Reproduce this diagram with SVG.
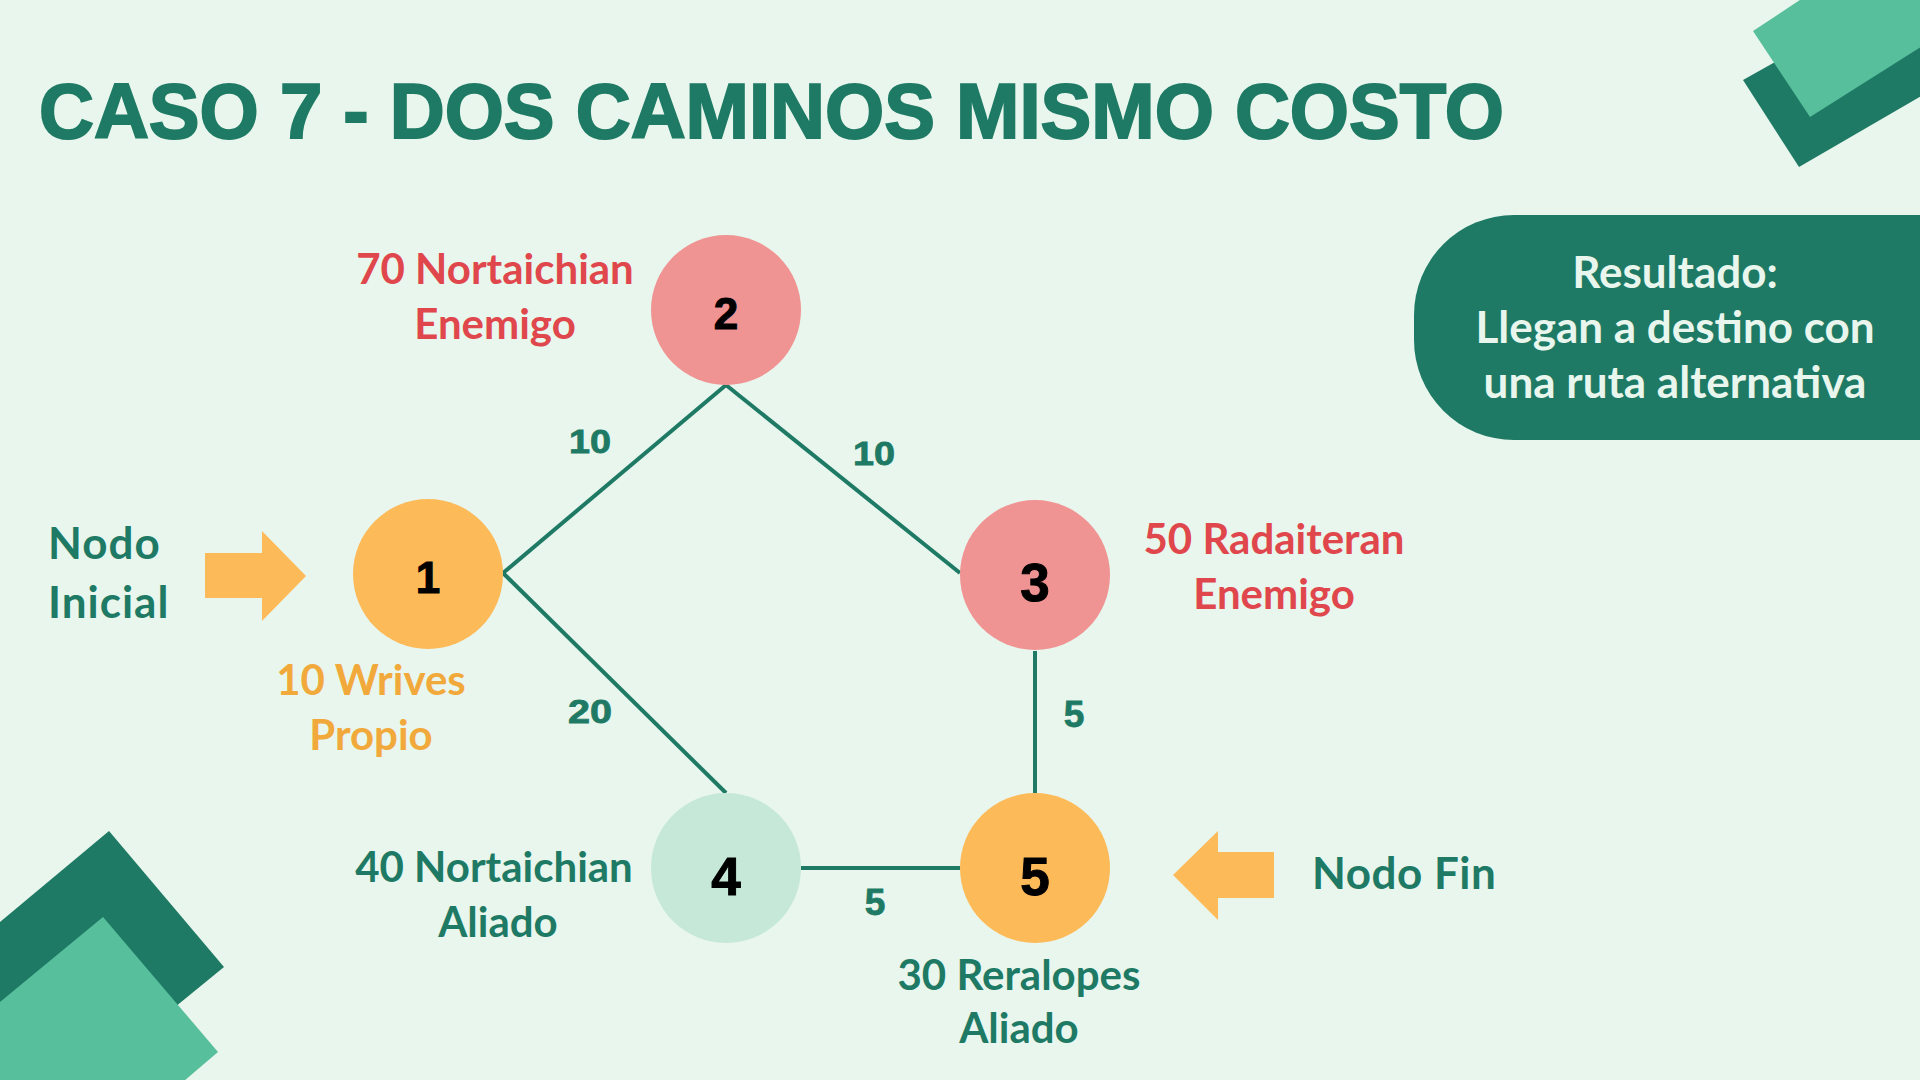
<svg xmlns="http://www.w3.org/2000/svg" width="1920" height="1080" viewBox="0 0 1920 1080">
<style>
.lbl{font-family:Lato,"Liberation Sans",sans-serif;font-weight:700;font-size:42px;text-anchor:middle}
.red{fill:#E0474C}
.grn{fill:#1E7A64}
.org{fill:#F2A93B}
.num{font-family:"Liberation Sans",Arial,sans-serif;font-weight:700;fill:#000;text-anchor:middle;stroke:#000;stroke-width:1}
.ew{font-family:"Liberation Sans",Arial,sans-serif;font-weight:700;fill:#1E7A64;text-anchor:middle;stroke:#1E7A64;stroke-width:0.8}
.edge{stroke:#1E7A64;stroke-width:4;fill:none}
.arrow{fill:#FDBA59}
</style>
<rect width="1920" height="1080" fill="#E8F6ED"/>
<g id="decor">
<polygon points="1743,80 1799,167 1940,85 1940,-30" fill="#1E7A64"/>
<polygon points="1753,31 1810,117 1940,35 1940,-10 1815,-10" fill="#57BF9C"/>
<polygon points="0,922 109,831 224,967 0,1150" fill="#1E7A64"/>
<polygon points="0,1002 103,917 218,1052 150,1110 0,1110" fill="#57BF9C"/>
</g>
<text id="title" x="39" y="138" font-family="'Liberation Sans',Arial,sans-serif" font-weight="700" font-size="77" fill="#1E7A64" stroke="#1E7A64" stroke-width="2" textLength="1465" lengthAdjust="spacingAndGlyphs">CASO 7 - DOS CAMINOS MISMO COSTO</text>
<g id="result">
<rect x="1414" y="215" width="620" height="225" rx="100" fill="#1E7A64"/>
<text class="lbl" fill="#E8F6ED" style="font-size:44px"><tspan x="1675" y="288">Resultado:</tspan><tspan x="1675" y="343">Llegan a destino con</tspan><tspan x="1675" y="398">una ruta alternativa</tspan></text>
</g>
<g id="connectors">
<line class="edge" x1="503" y1="573" x2="726" y2="385"/>
<line class="edge" x1="726" y1="385" x2="960" y2="573"/>
<line class="edge" x1="503" y1="573" x2="726" y2="793"/>
<line class="edge" x1="1035" y1="651" x2="1035" y2="793"/>
<line class="edge" x1="801" y1="868" x2="960" y2="868"/>
<text class="ew" x="590" y="453" font-size="33" textLength="42" lengthAdjust="spacingAndGlyphs">10</text>
<text class="ew" x="874" y="465" font-size="33" textLength="42" lengthAdjust="spacingAndGlyphs">10</text>
<text class="ew" x="590" y="723" font-size="33" textLength="44" lengthAdjust="spacingAndGlyphs">20</text>
<text class="ew" x="1074" y="727" font-size="37">5</text>
<text class="ew" x="875" y="915" font-size="37">5</text>
</g>
<g id="node1">
<circle cx="428" cy="574" r="75" fill="#FDBA59"/>
<text class="num" x="428" y="593" font-size="44">1</text>
<text class="lbl org"><tspan x="371" y="695">10 Wrives</tspan><tspan x="371" y="750">Propio</tspan></text>
</g>
<g id="node2">
<circle cx="726" cy="310" r="75" fill="#F09393"/>
<text class="num" x="726" y="329" font-size="44">2</text>
<text class="lbl red"><tspan x="495" y="284">70 Nortaichian</tspan><tspan x="495" y="339">Enemigo</tspan></text>
</g>
<g id="node3">
<circle cx="1035" cy="575" r="75" fill="#F09393"/>
<text class="num" x="1035" y="601" font-size="53">3</text>
<text class="lbl red"><tspan x="1274" y="554">50 Radaiteran</tspan><tspan x="1274" y="609">Enemigo</tspan></text>
</g>
<g id="node4">
<circle cx="726" cy="868" r="75" fill="#C5E8D8"/>
<text class="num" x="726" y="895" font-size="53">4</text>
<text class="lbl grn"><tspan x="494" y="882">40 Nortaichian</tspan><tspan x="498" y="937">Aliado</tspan></text>
</g>
<g id="node5">
<circle cx="1035" cy="868" r="75" fill="#FDBA59"/>
<text class="num" x="1035" y="895" font-size="53">5</text>
<text class="lbl grn"><tspan x="1019" y="990">30 Reralopes</tspan><tspan x="1019" y="1043">Aliado</tspan></text>
</g>
<g id="start">
<polygon class="arrow" points="205,553 262,553 262,531 306,576 262,621 262,598 205,598"/>
<text class="lbl grn" style="text-anchor:start;font-size:44px;letter-spacing:1px"><tspan x="48" y="559">Nodo</tspan><tspan x="48" y="618">Inicial</tspan></text>
</g>
<g id="end">
<polygon class="arrow" points="1173,875 1218,831 1218,852 1274,852 1274,898 1218,898 1218,920"/>
<text class="lbl grn" style="text-anchor:start;font-size:44px;letter-spacing:0.5px" x="1312" y="889">Nodo Fin</text>
</g>
</svg>
